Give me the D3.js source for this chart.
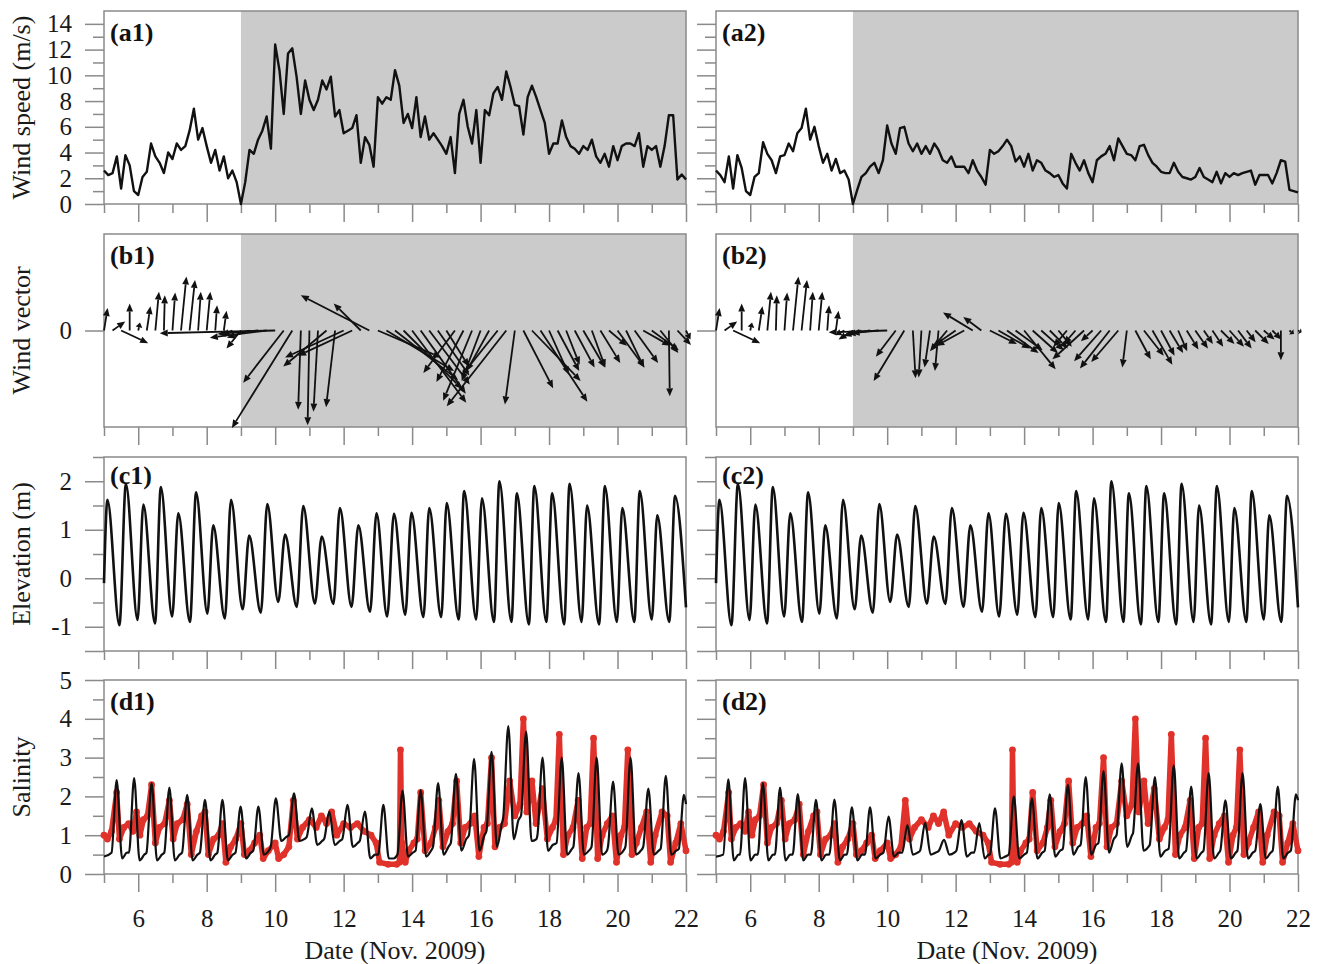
<!DOCTYPE html>
<html>
<head>
<meta charset="utf-8">
<script src="https://cdn.jsdelivr.net/npm/d3@7"></script>
<style>
  body { margin: 0; background: #fff; }
  text { font-family: "Liberation Serif", "Times New Roman", serif; }
</style>
</head>
<body>
<svg id="chart" width="1321" height="964"></svg>
<script>
// ---- data (days of Nov. 2009) ----
// wind speed (m/s), evenly spaced from day 5 to day 22
var windSpeed1 = [2.6,2.25,2.4,3.7,1.2,3.8,3.0,1.0, 0.7,2.1,2.5,4.7,3.7,3.2,2.4,4.0,
  3.5,4.7,4.2,4.5,5.7,7.4,5.0,5.9, 4.5,3.2,4.2,2.6,3.7,2.0,2.6,1.7,
  0.0,1.7,4.2,3.9,5.0,5.7,6.8,4.3, 12.4,10.4,7.0,11.7,12.1,9.9,7.0,9.6,
  8.1,7.3,8.1,9.6,8.9,9.9,6.8,7.3, 5.5,5.7,5.9,6.9,3.2,5.2,4.6,2.9,
  8.3,7.8,8.3,8.1,10.4,9.2,6.3,7.0, 5.9,8.3,5.2,6.8,5.0,5.5,5.0,4.5,
  3.9,5.2,2.4,7.0,8.1,6.0,4.7,7.3, 3.2,7.3,6.9,8.6,9.1,8.1,10.3,9.1,
  7.7,7.6,5.4,8.3,9.2,8.3,7.3,6.3, 3.9,4.7,4.7,6.5,5.2,4.5,4.3,3.9,
  4.5,4.2,5.0,3.7,3.2,3.9,2.9,4.5, 3.4,4.5,4.7,4.7,4.5,5.5,2.9,4.5,
  4.2,4.5,2.9,4.5,6.9,6.9,1.9,2.3, 1.9];
var windSpeed2 = [2.6,2.25,1.7,3.7,1.2,3.8,2.8,1.0, 0.7,2.1,2.4,4.8,3.9,3.4,2.4,3.7,
  3.8,4.7,4.1,5.5,5.9,7.4,5.0,6.0, 4.5,3.2,3.9,2.6,3.5,2.4,2.6,1.9,
  0.0,1.1,2.1,2.4,2.9,3.2,2.4,3.4, 6.1,4.7,3.9,5.9,6.0,4.7,4.1,4.7,
  3.9,4.5,3.9,4.7,4.2,3.4,3.2,3.7, 2.9,2.9,2.9,2.4,3.4,2.6,2.1,1.5,
  4.2,3.9,4.1,4.5,5.0,4.5,3.3,3.7, 2.9,3.9,2.6,3.4,3.2,2.6,2.4,2.1,
  2.25,1.6,1.2,3.9,3.2,2.6,3.4,2.4, 1.7,3.4,3.7,3.9,4.5,3.4,5.1,4.5,
  3.9,3.8,3.4,4.5,4.6,3.8,3.2,2.9, 2.5,2.4,2.4,3.2,2.5,2.1,2.0,1.9,
  2.1,2.8,2.1,1.9,1.7,2.5,1.6,2.4, 2.1,2.4,2.25,2.4,2.5,2.6,1.5,2.25,
  2.25,2.25,1.6,2.4,3.4,3.3,1.1,1.0, 0.9];

// wind vector components (m/s), 6-hourly from day 5 to day 22
var windU1 = [0.4,1.4,3.0,0.0,0.2,0.4,0.4,0.1,0.3,0.6,0.6,0.3,0.4,0.2,0.3,
  -1.0,-1.6,-2.5,-4.5,-6.3,-12.8,-4.5,-6.7,-0.3,-0.2,-0.5,-4.8,-1.0,-6.5,-6.0,-3.0,-7.6,
  7.0,7.5,7.0,6.5,6.0,5.0,4.5,3.5,2.5,
  -3.5,-3.0,-3.2,-2.1,-2.5,-4.0,-6.6,-1.1,
  3.3,5.4,5.2,2.2,2.4,1.5,2.2,2.4,1.5,2.2,2.0,3.0,2.0,2.6,3.0,3.0,2.0,0.1,1.5,0.5];
var windV1 = [2.5,1.0,-1.4,3.0,0.9,2.7,4.3,3.9,4.2,6.0,5.6,4.3,4.3,2.8,2.2,
  -0.5,-2.0,-0.8,-0.4,-0.8,-0.3,-5.8,-10.8,-8.8,-10.5,-9.0,-4.0,-8.5,-3.0,-2.8,3.0,3.9,
  -3.0,-4.5,-5.5,-6.5,-8.0,-7.0,-6.0,-5.0,-4.0,
  -4.7,-5.7,-7.8,-5.6,-4.5,-5.0,-8.4,-8.2,
  -6.4,-5.6,-7.9,-4.9,-4.5,-3.8,-4.1,-4.1,-4.1,-3.6,-1.7,-4.1,-4.1,-3.6,-1.7,-2.2,-2.5,-7.3,-1.6,-1.0];
var windU2 = [0.4,1.4,3.0,0.0,0.2,0.4,0.4,0.1,0.3,0.6,0.6,0.3,0.4,0.2,0.3,
  -1.0,-1.6,-2.0,-2.5,-3.0,-6.5,-2.2,-3.4,0.3,-0.3,-0.6,-0.4,-1.9,-2.6,-3.1,-3.3,-2.0,
  3.0,3.5,3.5,3.0,3.5,2.8,2.5,2.0,1.5,
  -1.5,-1.3,-3.5,-1.3,-3.0,-3.3,-3.0,-0.5,
  1.7,2.2,2.2,1.5,1.5,1.0,1.3,1.4,1.0,1.2,1.5,1.6,1.5,1.0,1.5,1.2,1.0,0.0,0.5,0.4];
var windV2 = [2.5,1.0,-1.4,3.0,0.9,2.7,4.3,3.9,4.2,6.0,5.6,4.3,4.3,2.8,2.2,
  -0.5,-1.0,-0.6,-0.4,-0.3,-0.2,-2.9,-5.6,-5.3,-5.2,-4.1,-4.5,-2.3,-1.8,-1.7,2.0,1.5,
  -1.5,-2.0,-2.5,-2.2,-4.3,-2.5,-2.2,-2.0,-1.8,
  -1.8,-1.5,-3.2,-1.2,-3.4,-4.2,-3.5,-4.1,
  -3.2,-2.8,-3.8,-2.8,-2.5,-2.3,-2.1,-2.0,-1.5,-1.8,-1.5,-1.8,-2.0,-1.3,-1.5,-1.0,-1.0,-3.3,-0.4,-0.2];

// water elevation (m): high and low waters [day, value]
var elevation = [[5.00,-0.10],[5.10,1.62],[5.45,-0.97],[5.64,1.95],[5.98,-0.86],[6.15,1.52],
  [6.49,-0.93],[6.66,1.88],[6.99,-0.79],[7.17,1.34],[7.51,-0.90],[7.69,1.77],[8.02,-0.73],
  [8.19,1.09],[8.53,-0.83],[8.71,1.62],[9.05,-0.64],[9.24,0.88],[9.58,-0.71],[9.77,1.53],
  [10.09,-0.49],[10.29,0.90],[10.63,-0.59],[10.82,1.49],[11.16,-0.52],[11.36,0.86],[11.70,-0.53],
  [11.89,1.45],[12.23,-0.59],[12.43,1.09],[12.77,-0.69],[12.96,1.34],[13.27,-0.79],[13.47,1.33],
  [13.80,-0.75],[13.98,1.35],[14.33,-0.80],[14.50,1.45],[14.85,-0.80],[15.01,1.55],[15.36,-0.85],
  [15.52,1.80],[15.87,-0.85],[16.04,1.65],[16.39,-0.90],[16.55,2.00],[16.90,-0.90],[17.06,1.75],
  [17.41,-0.95],[17.57,1.90],[17.92,-0.90],[18.09,1.75],[18.44,-0.95],[18.60,1.95],[18.95,-0.90],
  [19.11,1.50],[19.46,-0.95],[19.63,1.90],[19.98,-0.90],[20.14,1.45],[20.49,-0.90],[20.65,1.80],
  [21.00,-0.85],[21.16,1.30],[21.51,-0.90],[21.68,1.70],[22.00,-0.60]];

// modelled salinity [day, value]
var salModel1 = [[5.0,0.45],
  [5.22,0.55],[5.37,2.42],[5.53,0.4],[5.67,0.55],[5.73,0.55],[5.88,2.47],[6.04,0.35],[6.18,0.5],
  [6.24,0.55],[6.39,2.34],[6.55,0.35],[6.69,0.5],[6.76,0.55],[6.91,2.23],[7.07,0.35],[7.21,0.5],
  [7.28,0.55],[7.43,2.04],[7.59,0.35],[7.73,0.5],[7.80,0.55],[7.95,1.91],[8.11,0.35],[8.25,0.5],
  [8.31,0.55],[8.46,1.91],[8.62,0.35],[8.76,0.5],[8.84,0.55],[8.99,1.74],[9.15,0.4],[9.29,0.55],
  [9.36,0.6],[9.51,1.74],[9.67,0.5],[9.81,0.6],[9.87,0.7],[10.02,1.95],[10.18,0.85],[10.32,0.95],
  [10.40,1.0],[10.55,2.08],[10.71,0.85],[10.85,0.9],[10.92,0.95],[11.07,1.69],[11.23,0.75],[11.37,0.85],
  [11.43,0.9],[11.58,1.61],[11.74,0.75],[11.88,0.85],[11.96,0.9],[12.11,1.78],[12.27,0.7],[12.41,0.8],
  [12.47,0.85],[12.62,1.61],[12.78,0.4],[12.92,0.5],[13.01,0.5],[13.16,1.78],[13.32,0.4],[13.46,0.4],
  [13.57,0.5],[13.72,2.15],[13.88,0.45],[14.02,0.55],[14.10,0.6],[14.25,2.16],[14.41,0.45],[14.55,0.6],
  [14.61,0.7],[14.76,2.34],[14.92,0.5],[15.06,0.7],[15.13,0.8],[15.28,2.58],[15.44,0.6],[15.58,0.9],
  [15.66,1.0],[15.81,2.96],[15.97,0.6],[16.11,1.0],[16.17,1.1],[16.32,3.15],[16.48,0.7],[16.62,1.3],
  [16.66,1.45],[16.81,3.81],[16.97,0.9],[17.11,1.4],[17.18,1.5],[17.33,3.67],[17.49,0.85],[17.63,0.9],
  [17.66,1.0],[17.81,3.0],[17.97,0.6],[18.11,0.75],[18.22,0.8],[18.37,3.0],[18.53,0.5],[18.67,0.65],
  [18.71,0.7],[18.86,2.6],[19.02,0.5],[19.16,0.6],[19.24,0.7],[19.39,3.0],[19.55,0.5],[19.69,0.6],
  [19.72,0.7],[19.87,2.38],[20.03,0.5],[20.17,0.6],[20.23,0.7],[20.38,3.0],[20.54,0.5],[20.68,0.6],
  [20.75,0.7],[20.9,2.2],[21.06,0.5],[21.2,0.6],[21.26,0.65],[21.41,2.53],[21.57,0.5],[21.71,0.6],
  [21.79,0.65],[21.94,2.04],[22.0,1.8]];
var salModel2 = [[5.0,0.45],
  [5.21,0.5],[5.36,2.44],[5.52,0.35],[5.66,0.5],[5.70,0.5],[5.85,2.47],[6.01,0.35],[6.15,0.5],
  [6.22,0.5],[6.37,2.34],[6.53,0.35],[6.67,0.5],[6.72,0.5],[6.87,2.23],[7.03,0.35],[7.17,0.5],
  [7.24,0.5],[7.39,2.06],[7.55,0.35],[7.69,0.5],[7.77,0.5],[7.92,1.91],[8.08,0.35],[8.22,0.5],
  [8.31,0.5],[8.46,1.92],[8.62,0.35],[8.76,0.5],[8.82,0.5],[8.97,1.72],[9.13,0.35],[9.27,0.5],
  [9.35,0.5],[9.5,1.72],[9.66,0.4],[9.8,0.5],[9.89,0.55],[10.04,1.48],[10.2,0.45],[10.34,0.55],
  [10.44,0.55],[10.59,1.26],[10.75,0.5],[10.89,0.55],[10.96,0.6],[11.11,1.32],[11.27,0.5],[11.41,0.55],
  [11.51,0.6],[11.66,0.88],[11.82,0.5],[11.96,0.55],[12.02,0.6],[12.17,1.39],[12.33,0.45],[12.47,0.55],
  [12.54,0.55],[12.69,1.31],[12.85,0.4],[12.97,0.5],[13.0,0.5],[13.15,1.69],[13.31,0.4],[13.45,0.45],
  [13.55,0.5],[13.7,2.0],[13.86,0.4],[14.0,0.5],[14.08,0.55],[14.23,1.95],[14.39,0.4],[14.53,0.55],
  [14.6,0.6],[14.75,2.05],[14.91,0.45],[15.05,0.6],[15.13,0.65],[15.28,2.3],[15.44,0.5],[15.58,0.7],
  [15.65,0.75],[15.8,2.5],[15.96,0.5],[16.1,0.75],[16.17,0.8],[16.32,2.65],[16.48,0.55],[16.62,0.9],
  [16.7,1.0],[16.85,2.85],[17.01,0.7],[17.15,1.0],[17.18,1.05],[17.33,2.85],[17.49,0.6],[17.63,0.7],
  [17.67,0.75],[17.82,2.5],[17.98,0.45],[18.12,0.6],[18.22,0.65],[18.37,2.8],[18.53,0.4],[18.67,0.55],
  [18.73,0.6],[18.88,2.25],[19.04,0.4],[19.18,0.55],[19.24,0.6],[19.39,2.6],[19.55,0.4],[19.69,0.55],
  [19.73,0.6],[19.88,1.9],[20.04,0.4],[20.18,0.55],[20.23,0.6],[20.38,2.6],[20.54,0.4],[20.68,0.55],
  [20.75,0.6],[20.9,1.8],[21.06,0.4],[21.2,0.55],[21.26,0.6],[21.41,2.25],[21.57,0.4],[21.71,0.55],
  [21.79,0.6],[21.94,2.05],[22.0,1.9]];

// observed salinity [day, value] (same record in both columns)
var salObs = [[5.0,1.0],[5.1,0.9],[5.22,1.1],[5.37,2.1],[5.45,0.9],[5.58,1.2],[5.72,1.3],[5.85,1.1],
  [5.95,1.6],[6.05,1.0],[6.15,1.4],[6.27,1.5],[6.39,2.3],[6.5,0.8],[6.62,1.2],[6.77,1.3],[6.91,1.9],
  [7.02,0.9],[7.14,1.3],[7.3,1.4],[7.43,1.8],[7.55,0.5],[7.7,1.1],[7.85,1.5],[7.95,1.6],[8.05,0.5],
  [8.2,0.9],[8.35,1.0],[8.46,1.3],[8.56,0.3],[8.7,0.7],[8.85,0.9],[9.0,1.3],[9.1,0.5],[9.25,0.6],
  [9.4,0.8],[9.55,1.0],[9.65,0.4],[9.8,0.6],[10.0,0.8],[10.1,0.4],[10.25,0.5],[10.4,0.7],[10.53,1.9],
  [10.65,0.9],[10.8,1.2],[11.0,1.4],[11.2,1.2],[11.35,1.5],[11.5,1.3],[11.65,1.6],[11.8,1.0],[12.0,1.3],
  [12.2,1.2],[12.4,1.3],[12.6,1.1],[12.8,1.0],[12.95,0.8],[13.05,0.3],[13.3,0.25],[13.55,0.25],
  [13.63,0.3],[13.66,3.2],[13.7,0.8],[13.8,0.3],[13.9,0.6],[14.05,0.8],[14.15,0.9],[14.25,2.1],
  [14.38,0.6],[14.55,0.8],[14.68,1.2],[14.78,1.9],[14.9,0.7],[15.05,1.1],[15.18,1.3],[15.3,2.4],
  [15.42,0.8],[15.55,1.2],[15.7,1.3],[15.83,1.5],[15.95,0.45],[16.1,1.2],[16.2,1.3],[16.32,3.0],
  [16.42,0.7],[16.55,1.2],[16.7,1.3],[16.85,2.4],[17.0,1.5],[17.15,1.8],[17.25,4.0],[17.35,1.6],
  [17.5,2.4],[17.62,1.3],[17.8,2.2],[17.95,0.9],[18.1,1.2],[18.2,1.4],[18.3,3.6],[18.42,0.5],
  [18.55,1.0],[18.7,1.2],[18.85,1.9],[18.97,0.4],[19.1,1.2],[19.2,1.3],[19.3,3.5],[19.42,0.4],
  [19.55,1.0],[19.7,1.3],[19.85,1.5],[19.97,0.3],[20.1,1.0],[20.2,1.2],[20.3,3.2],[20.42,0.5],
  [20.55,0.8],[20.7,1.2],[20.85,1.6],[20.97,0.3],[21.1,1.0],[21.3,1.6],[21.45,1.5],[21.55,0.3],
  [21.7,0.8],[21.85,1.3],[22.0,0.6]];

var dayTicks = d3.range(5, 23);
var dayLabels = d3.range(6, 23, 2);

// ---- layout ----
var svg = d3.select("#chart");
var frameColor = "#8a8a8a";
var cols = [{x: [104, 686], tag: "1"}, {x: [716, 1298], tag: "2"}];
var rows = {a: [11, 204], b: [234, 427], c: [457, 651], d: [680, 874]};

function styleAxis(g) {
  g.select(".domain").remove();
  g.selectAll(".tick line").attr("stroke", frameColor).attr("stroke-width", 1.5);
  g.selectAll(".tick text").attr("fill", "#1a1a1a")
    .style("font-family", "'Liberation Serif', serif").style("font-size", "25px");
}

function panel(col, rowKey, y, yMajor, yMinor, showY, showX, letter, shaded) {
  var x = d3.scaleLinear().domain([5, 22]).range(col.x);
  var top = rows[rowKey][0], bot = rows[rowKey][1];
  var g = svg.append("g");
  if (shaded) {
    g.append("rect").attr("x", x(9)).attr("y", top)
      .attr("width", x(22) - x(9)).attr("height", bot - top).attr("fill", "#cbcbcb");
  }
  g.append("rect").attr("x", col.x[0]).attr("y", top)
    .attr("width", col.x[1] - col.x[0]).attr("height", bot - top)
    .attr("fill", "none").attr("stroke", frameColor).attr("stroke-width", 1.5);

  // y axis: major and minor ticks pointing out
  g.append("g").attr("transform", "translate(" + col.x[0] + ",0)")
    .call(d3.axisLeft(y).tickValues(yMajor).tickSize(19).tickPadding(13)
      .tickFormat(function(d) { return showY && d !== -1.5 ? String(d) : ""; }))
    .call(styleAxis);
  if (yMinor.length) {
    g.append("g").attr("transform", "translate(" + col.x[0] + ",0)")
      .call(d3.axisLeft(y).tickValues(yMinor).tickSize(11).tickFormat(""))
      .call(styleAxis);
  }
  // x axis: even days long, odd days short
  g.append("g").attr("transform", "translate(0," + bot + ")")
    .call(d3.axisBottom(x).tickValues(dayLabels).tickSize(18).tickPadding(17)
      .tickFormat(function(d) { return showX ? String(d) : ""; }))
    .call(styleAxis);
  g.append("g").attr("transform", "translate(0," + bot + ")")
    .call(d3.axisBottom(x).tickValues(dayTicks.filter(function(d) { return d % 2; }))
      .tickSize(9).tickFormat(""))
    .call(styleAxis);

  var data = g.append("g");
  g.append("text").attr("x", col.x[0] + 6).attr("y", top + (rowKey === "c" ? 27 : 30))
    .attr("font-weight", "bold").attr("font-size", 26).attr("fill", "#111")
    .text("(" + letter + col.tag + ")");
  return {x: x, g: data};
}

function drawArrows(p, y, us, vs) {
  var k = y(0) - y(1);  // pixels per m/s, same both directions
  var n = us.length;
  var vecs = us.map(function(u, i) {
    return {t: 5 + i * 17 / (n - 1), u: u, v: vs[i]};
  });
  var items = p.g.selectAll(".vec").data(vecs).enter().append("g");
  items.each(function(d) {
    var x0 = p.x(d.t), y0 = y(0);
    var dx = d.u * k, dy = -d.v * k;
    var len = Math.sqrt(dx * dx + dy * dy);
    if (len < 0.5) return;
    var ux = dx / len, uy = dy / len;
    var hl = Math.min(8, len * 0.6), hw = 3.4;
    var x1 = x0 + dx, y1 = y0 + dy;
    var bx = x1 - ux * hl, by = y1 - uy * hl;
    var sel = d3.select(this);
    sel.append("line").attr("x1", x0).attr("y1", y0).attr("x2", bx).attr("y2", by)
      .attr("stroke", "#111").attr("stroke-width", 1.8);
    sel.append("path")
      .attr("d", "M" + x1 + "," + y1 + "L" + (bx - uy * hw) + "," + (by + ux * hw) +
        "L" + (bx + uy * hw) + "," + (by - ux * hw) + "Z")
      .attr("fill", "#111");
  });
}

cols.forEach(function(col, ci) {
  // (a) wind speed
  var ya = d3.scaleLinear().domain([0, 15]).range([rows.a[1], rows.a[0]]);
  var pa = panel(col, "a", ya, d3.range(0, 15, 2), d3.range(1, 15, 2), ci === 0, false, "a", true);
  var ws = ci === 0 ? windSpeed1 : windSpeed2;
  pa.g.append("path").datum(ws)
    .attr("d", d3.line()
      .x(function(d, i) { return pa.x(5 + i * 17 / (ws.length - 1)); })
      .y(function(d) { return ya(d); }))
    .attr("fill", "none").attr("stroke", "#111").attr("stroke-width", 2.4)
    .attr("stroke-linejoin", "round");

  // (b) wind vectors
  var yb = d3.scaleLinear().domain([-10.7, 10.7]).range([rows.b[1], rows.b[0]]);
  var pb = panel(col, "b", yb, [0], [], ci === 0, false, "b", true);
  drawArrows(pb, yb, ci === 0 ? windU1 : windU2, ci === 0 ? windV1 : windV2);

  // (c) elevation
  var yc = d3.scaleLinear().domain([-1.5, 2.5]).range([rows.c[1], rows.c[0]]);
  var pc = panel(col, "c", yc, [-1.5, -1, 0, 1, 2], [-0.5, 0.5, 1.5, 2.5], ci === 0, false, "c", false);
  pc.g.append("path").datum(elevation)
    .attr("d", d3.line().curve(d3.curveMonotoneX)
      .x(function(d) { return pc.x(d[0]); }).y(function(d) { return yc(d[1]); }))
    .attr("fill", "none").attr("stroke", "#111").attr("stroke-width", 2.6);

  // (d) salinity
  var yd = d3.scaleLinear().domain([0, 5]).range([rows.d[1], rows.d[0]]);
  var pd = panel(col, "d", yd, d3.range(0, 6), d3.range(0.5, 5, 1), ci === 0, true, "d", false);
  pd.g.append("path").datum(salObs)
    .attr("d", d3.line().x(function(d) { return pd.x(d[0]); }).y(function(d) { return yd(d[1]); }))
    .attr("fill", "none").attr("stroke", "#e0322a").attr("stroke-width", 5.5)
    .attr("stroke-linejoin", "round").attr("stroke-linecap", "round");
  pd.g.selectAll(".obs").data(salObs).enter().append("circle")
    .attr("cx", function(d) { return pd.x(d[0]); }).attr("cy", function(d) { return yd(d[1]); })
    .attr("r", 3.4).attr("fill", "#e0322a");
  var sm = ci === 0 ? salModel1 : salModel2;
  pd.g.append("path").datum(sm)
    .attr("d", d3.line().curve(d3.curveMonotoneX)
      .x(function(d) { return pd.x(d[0]); }).y(function(d) { return yd(d[1]); }))
    .attr("fill", "none").attr("stroke", "#111").attr("stroke-width", 2.2);

  svg.append("text").attr("x", (col.x[0] + col.x[1]) / 2).attr("y", 959)
    .attr("text-anchor", "middle").attr("font-size", 26).attr("fill", "#1a1a1a")
    .text("Date (Nov. 2009)");
});

// y axis titles
var titles = [["Wind speed (m/s)", rows.a], ["Wind vector", rows.b], ["Elevation (m)", rows.c], ["Salinity", rows.d]];
titles.forEach(function(t) {
  var cy = (t[1][0] + t[1][1]) / 2;
  svg.append("text").attr("transform", "translate(30," + cy + ") rotate(-90)")
    .attr("text-anchor", "middle").attr("font-size", 26).attr("fill", "#1a1a1a")
    .text(t[0]);
});
</script>
</body>
</html>
